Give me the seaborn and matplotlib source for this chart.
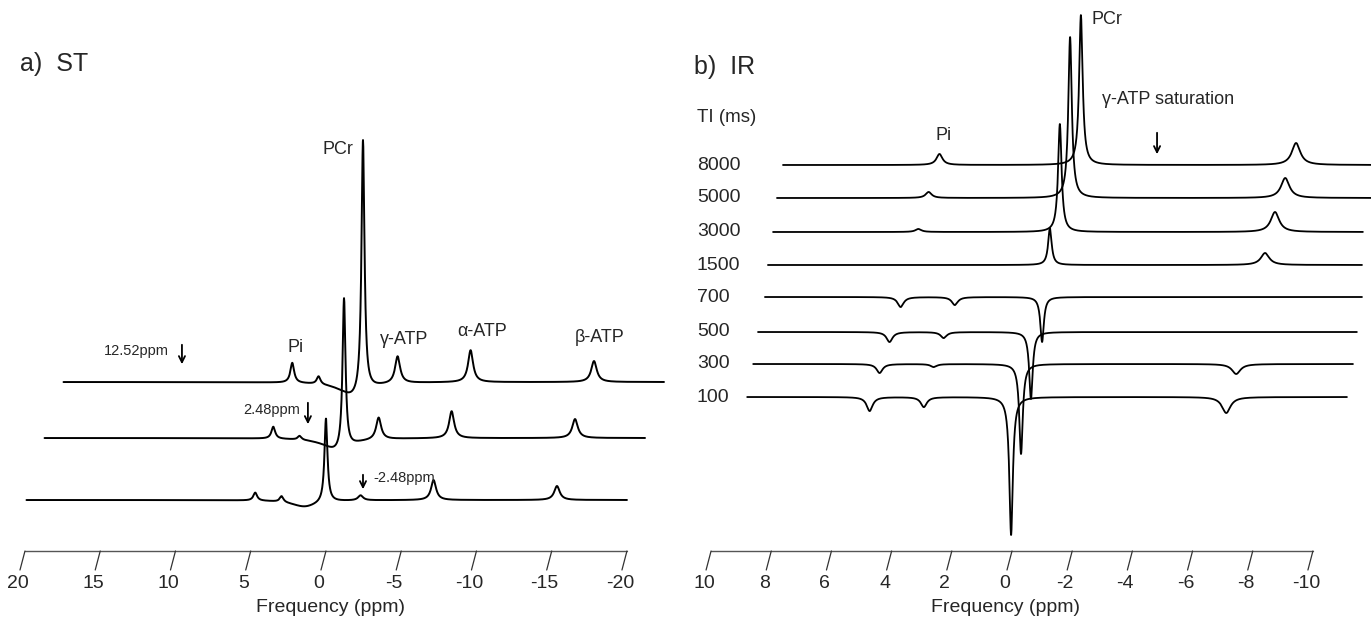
import numpy as np
import pandas as pd
import seaborn as sns
import matplotlib.pyplot as plt

# ---- a) ST : three spectra, bottom to top (saturation at -2.48, 2.48, 12.52 ppm)
st_names = ['-2.48ppm', '2.48ppm', '12.52ppm']
st_peak_ppm = [4.7, 2.95, 0.0, -2.3, -7.15, -15.35]      # Pi, PDE, PCr, g-ATP, a-ATP, b-ATP
st_peak_hwhm = [0.15, 0.15, 0.12, 0.2, 0.2, 0.22]
st_heights = [
    [8, 6, 84, 5, 20, 14],
    [12, 4, 152, 22, 27, 19],
    [20, 8, 254, 27, 32, 21],
]
st_dip_ppm = [1.4, 0.4, 0.6]
st_dip_depth = [-7, -14, -16]
st_window = [19.9, -20.0]
st_ticks = [20, 15, 10, 5, 0, -5, -10, -15, -20]

# ---- b) IR : eight spectra, bottom to top
ir_ti = [100, 300, 500, 700, 1500, 3000, 5000, 8000]
ir_peak_ppm = [4.7, 2.9, 0.0, -7.15]                     # Pi, PDE, PCr, a-ATP
ir_peak_hwhm = [0.12, 0.12, 0.07, 0.17]
ir_heights = [
    [-14, -10, -138, -16],
    [-9, -3, -90, -10],
    [-10, -6, -67, 0],
    [-10, -8, -45, 0],
    [0, 0, 37, 12],
    [3, 0, 108, 20],
    [6, 0, 161, 20],
    [11, 0, 150, 22],
]
ir_window_hi = [8.77, 8.90, 9.07, 9.21, 9.37, 9.53, 9.74, 9.90]
ir_window_lo = [-11.16, -11.03, -10.83, -10.63, -10.37, -10.07, -10.0, -9.7]
ir_ticks = [10, 8, 6, 4, 2, 0, -2, -4, -6, -8, -10]

# stacking layout (pseudo 3-D offsets)
st_shift = [0.0, -1.2, -2.46]
st_base = [124, 186, 242]
ir_shift = [0.03, -0.30, -0.63, -1.0, -1.26, -1.59, -1.93, -2.29]
ir_base = [227, 260, 292, 327, 359, 392, 426, 459]


def spectrum(ppm, centers, heights, widths):
    """ Sum of Lorentzian lines for the given peak table. """
    y = np.zeros_like(ppm)
    for c, h, w in zip(centers, heights, widths):
        y += h / (1 + ((ppm - c) / w) ** 2)
    return y


def st_frame():
    rows = []
    ppm = np.linspace(st_window[1], st_window[0], 4001)
    for i, name in enumerate(st_names):
        y = spectrum(ppm, st_peak_ppm, st_heights[i], st_peak_hwhm)
        y += spectrum(ppm, [st_dip_ppm[i]], [st_dip_depth[i]], [1.1])
        rows.append(pd.DataFrame({'x': ppm + st_shift[i], 'y': y + st_base[i], 'trace': name}))
    return pd.concat(rows, ignore_index=True)


def ir_frame():
    rows = []
    for i, ti in enumerate(ir_ti):
        ppm = np.linspace(ir_window_lo[i], ir_window_hi[i], 4001)
        y = spectrum(ppm, ir_peak_ppm, ir_heights[i], ir_peak_hwhm)
        rows.append(pd.DataFrame({'x': ppm + ir_shift[i], 'y': y + ir_base[i], 'trace': str(ti)}))
    return pd.concat(rows, ignore_index=True)


def draw_axis(ax, ticks, slant, fs=14):
    ax.plot([ticks[0], ticks[-1]], [73, 73], color='#555555', lw=1.0)
    for t in ticks:
        ax.plot([t, t + slant], [73, 54], color='#333333', lw=0.9)
        ax.text(t + slant * 1.4, 41, str(t), ha='center', va='center', fontsize=fs)


def arrow(ax, x, y0, y1):
    ax.annotate('', xy=(x, y1), xytext=(x, y0),
                arrowprops=dict(arrowstyle='->', color='black', lw=1.3, mutation_scale=11))


sns.set_theme(style='white')
plt.rcParams['font.family'] = ['Liberation Sans', 'DejaVu Sans']

fig = plt.figure(figsize=(13.71, 6.24), dpi=100)
ax1 = fig.add_axes([0, 0, 0.5, 1])
ax2 = fig.add_axes([0.5, 0, 0.5, 1])

sns.lineplot(data=st_frame(), x='x', y='y', units='trace', estimator=None, sort=False,
             color='black', linewidth=1.4, ax=ax1, legend=False)
sns.lineplot(data=ir_frame(), x='x', y='y', units='trace', estimator=None, sort=False,
             color='black', linewidth=1.3, ax=ax2, legend=False)

ax1.set_xlim(21.66, -23.89)
ax2.set_xlim(10.85, -11.93)
for ax in (ax1, ax2):
    ax.set_ylim(0, 624)
    ax.set_axis_off()

# left panel text
draw_axis(ax1, st_ticks, 5 / 15.05)
ax1.text(-0.27, 16, 'Frequency (ppm)', ha='center', va='center', fontsize=14)
ax1.text(20.33, 560, 'a)  ST', ha='left', va='center', fontsize=18)
ax1.text(-0.80, 474, 'PCr', ha='center', va='center', fontsize=13)
ax1.text(1.99, 277, 'Pi', ha='center', va='center', fontsize=13)
ax1.text(-5.18, 284, 'γ-ATP', ha='center', va='center', fontsize=13)
ax1.text(-10.37, 292, 'α-ATP', ha='center', va='center', fontsize=13)
ax1.text(-18.2, 286, 'β-ATP', ha='center', va='center', fontsize=13)
ax1.text(12.62, 273, '12.52ppm', ha='center', va='center', fontsize=10.5)
arrow(ax1, 9.57, 282, 257)
ax1.text(1.73, 214, '2.48ppm', ha='right', va='center', fontsize=10.5)
arrow(ax1, 1.2, 224, 197)
ax1.text(-3.12, 146, '-2.48ppm', ha='left', va='center', fontsize=10.5)
arrow(ax1, -2.46, 152, 132)

# right panel text
draw_axis(ax2, ir_ticks, 5 / 30.1)
ax2.text(0.2, 16, 'Frequency (ppm)', ha='center', va='center', fontsize=14)
ax2.text(10.56, 557, 'b)  IR', ha='left', va='center', fontsize=18)
ax2.text(10.47, 506, 'TI (ms)', ha='left', va='center', fontsize=13.5)
for ti, b in zip(ir_ti, ir_base):
    ax2.text(10.47, b, str(ti), ha='left', va='center', fontsize=14)
ax2.text(2.29, 488, 'Pi', ha='center', va='center', fontsize=13)
ax2.text(-3.16, 604, 'PCr', ha='center', va='center', fontsize=13)
ax2.text(-5.18, 524, 'γ-ATP saturation', ha='center', va='center', fontsize=13)
arrow(ax2, -4.82, 494, 467)

fig.savefig('out.png', dpi=100)
